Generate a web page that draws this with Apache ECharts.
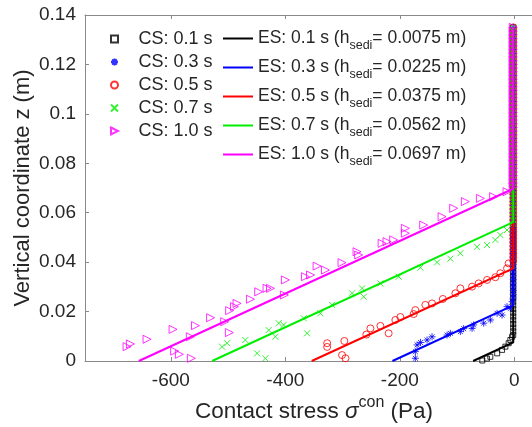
<!DOCTYPE html>
<html>
<head>
<meta charset="utf-8">
<script src="https://cdn.jsdelivr.net/npm/echarts@6/dist/echarts.min.js"></script>
<style>html,body{margin:0;padding:0;background:#fff}#c{width:532px;height:427px}</style>
</head>
<body>
<div id="c"></div>
<script>
// ---------- data ----------
const csNames = ['CS: 0.1 s', 'CS: 0.3 s', 'CS: 0.5 s', 'CS: 0.7 s', 'CS: 1.0 s'];
const esTimes = ['0.1', '0.3', '0.5', '0.7', '1.0'];
const hSedi = ['0.0075', '0.0225', '0.0375', '0.0562', '0.0697'];
const xTicks = [-600, -400, -200, 0];

// CS scattered points below the bed surface [stress (Pa), z (m)]
const cs01 = [[-56,0.0002],[-48,0.0010],[-42,0.0017],[-30,0.0031],[-21.5,0.0045],[-15.7,0.0058],[-10,0.0072],[-7,0.0085],[-4,0.0098]];
const cs03 = [[-173,0.0011],[-173,0.0038],[-170,0.0065],[-164,0.0075],[-152.5,0.0085],[-143.8,0.0098],[-117.6,0.0105],[-111.8,0.0112],[-94.3,0.0119],[-88.6,0.0131],[-73.9,0.0132],[-71.1,0.0146],[-53.6,0.0153],[-41.9,0.0166],[-30.2,0.0193],[-21.5,0.0186],[-12.8,0.0220],[-7,0.0213],[-4,0.0240]];
const cs05 = [[-327,0.0072],[-327,0.0057],[-301,0.0024],[-295,0.0011],[-297,0.0081],[-258.5,0.0107],[-251.5,0.0132],[-234,0.0142],[-219.6,0.0112],[-207.9,0.0166],[-199.1,0.0178],[-175.9,0.0190],[-173,0.0206],[-155.5,0.0227],[-143.8,0.0233],[-124.9,0.0251],[-103,0.0274],[-94.3,0.0294],[-73.9,0.0301],[-62.4,0.0314],[-47.7,0.0328],[-33.2,0.0339],[-24.5,0.0355],[-12.8,0.0375],[-10,0.0395]];
const cs07 = [[-510.6,0.0058],[-501.8,0.0072],[-469.9,0.0085],[-449.4,0.0031],[-434.9,0.0011],[-429.2,0.0125],[-417.5,0.0098],[-411.7,0.0153],[-403,0.0146],[-368,0.0173],[-362.1,0.0112],[-338.9,0.0193],[-318.4,0.0227],[-283.5,0.0274],[-263.2,0.0260],[-266,0.0294],[-234,0.0314],[-202,0.0341],[-164.2,0.0378],[-135,0.0399],[-111.8,0.0414],[-94.3,0.0436],[-65.2,0.0462],[-47.7,0.0469],[-33.2,0.0490],[-24.5,0.0510],[-12.8,0.0530]];
const cs10 = [[-676.5,0.0058],[-670.7,0.0069],[-641.6,0.0088],[-596.2,0.0128],[-593.4,0.0040],[-585.2,0.0027],[-564.2,0.0011],[-566,0.0098],[-557,0.0143],[-530.6,0.0175],[-506,0.0159],[-497.8,0.0115],[-497.3,0.0204],[-489,0.0220],[-484.4,0.0233],[-461,0.0250],[-446.6,0.0280],[-432,0.0294],[-426,0.0294],[-400,0.0328],[-401.7,0.0267],[-365,0.0341],[-356,0.0348],[-344.6,0.0384],[-330,0.0368],[-301,0.0398],[-274.8,0.0442],[-272,0.0429],[-231,0.0476],[-222.4,0.0483],[-210.8,0.0490],[-190.4,0.0537],[-190.4,0.0517],[-158.4,0.0550],[-126.3,0.0584],[-106,0.0618],[-85.6,0.0645],[-59.4,0.0658],[-36.2,0.0665],[-12.8,0.0685]];

// CS points stacked at ~zero stress above the bed (dense column)
const colX = -2;
const colZ = [0.0105,0.0120,0.0135,0.0150,0.0165,0.0180,0.0195,0.0210,0.0225,0.0240,0.0255,0.0270,0.0285,0.0300,0.0315,0.0330,0.0345,0.0360,0.0375,0.0390,0.0405,0.0420,0.0435,0.0450,0.0465,0.0480,0.0495,0.0510,0.0525,0.0540,0.0555,0.0570,0.0585,0.0600,0.0615,0.0630,0.0645,0.0660,0.0675,0.0690,0.0705,0.0720,0.0735,0.0750,0.0765,0.0780,0.0795,0.0810,0.0825,0.0840,0.0855,0.0870,0.0885,0.0900,0.0915,0.0930,0.0945,0.0960,0.0975,0.0990,0.1005,0.1020,0.1035,0.1050,0.1065,0.1080,0.1095,0.1110,0.1125,0.1140,0.1155,0.1170,0.1185,0.1200,0.1215,0.1230,0.1245,0.1260,0.1275,0.1290,0.1305,0.1320,0.1335,0.1350];
const colStart = [0.0105, 0.0255, 0.0405, 0.0555, 0.0705];

// ES (analytical) profiles: base stress, bed surface, top of column
const es01 = [[-72,0],[-2,0.0075],[-2,0.135]];
const es03 = [[-213,0],[-2,0.0225],[-2,0.135]];
const es05 = [[-354,0],[-2,0.0375],[-2,0.135]];
const es07 = [[-528,0],[-2,0.0562],[-2,0.135]];
const es10 = [[-656,0],[-2,0.0697],[-2,0.135]];

// ---------- styling ----------
const FONT = '"Liberation Sans", Arial, Helvetica, sans-serif';
const TXT = '#262626';
const AX = '#8a8a8a';
const colors = ['#000000', '#0000ff', '#ff0000', '#00ee00', '#ff00ff'];
const symbols = [
  'path://M0,0 L10,0 L10,10 L0,10 Z',
  'path://M5,0 L5,10 M0,5 L10,5 M1.5,1.5 L8.5,8.5 M1.5,8.5 L8.5,1.5',
  'circle',
  'path://M0,0 L10,10 M0,10 L10,0',
  'path://M0,0 L10,5 L0,10 Z'
];
const symSizes = [5, 7, 7, 6, 8];
const csData = [cs01, cs03, cs05, cs07, cs10];
const esData = [es01, es03, es05, es07, es10];
const esNames = esTimes.map(t => 'ES: ' + t + ' s');

const series = [];
for (let i = 0; i < 5; i++) {
  const col = colZ.filter(z => z >= colStart[i] - 1e-9).map(z => [colX, z]);
  series.push({
    name: csNames[i], type: 'scatter',
    data: csData[i].concat(col),
    symbol: symbols[i], symbolSize: symSizes[i], symbolKeepAspect: true,
    itemStyle: {color: 'rgba(0,0,0,0)', borderColor: colors[i], borderWidth: 1},
    z: 2
  });
  series.push({
    name: esNames[i], type: 'line',
    data: esData[i], symbol: 'none', showSymbol: false,
    lineStyle: {color: colors[i], width: 2},
    itemStyle: {color: colors[i]},
    z: 3
  });
}

const chart = echarts.init(document.getElementById('c'), null, {renderer: 'canvas'});
chart.setOption({
  animation: false,
  backgroundColor: '#ffffff',
  grid: {left: 85, top: 15, width: 458, height: 346, containLabel: false, outerBoundsMode: 'none'},
  xAxis: [{
    type: 'value', min: -750, max: 50, position: 'bottom',
    axisLine: {show: true, onZero: false, lineStyle: {color: AX, width: 1}},
    axisTick: {show: true, inside: true, length: 4, customValues: xTicks, lineStyle: {color: AX}},
    axisLabel: {customValues: xTicks, fontSize: 19, color: TXT, margin: 10, fontFamily: FONT},
    splitLine: {show: false},
    name: '{a|Contact stress }{s|σ}{p|con}{a| (Pa)}',
    nameLocation: 'middle', nameGap: 33,
    nameTextStyle: {
      fontFamily: FONT, color: TXT,
      rich: {
        a: {fontSize: 22.5, fontFamily: FONT, color: TXT, lineHeight: 23},
        s: {fontSize: 22.5, fontFamily: FONT, color: TXT, fontStyle: 'italic', lineHeight: 23},
        p: {fontSize: 16, fontFamily: FONT, color: TXT, lineHeight: 16, padding: [0, 0, 18, 0]}
      }
    }
  }, {
    type: 'value', min: -750, max: 50, position: 'top',
    axisLine: {show: true, onZero: false, lineStyle: {color: AX, width: 1}},
    axisTick: {show: true, inside: true, length: 4, customValues: xTicks, lineStyle: {color: AX}},
    axisLabel: {show: false},
    splitLine: {show: false}
  }],
  yAxis: [{
    type: 'value', min: 0, max: 0.14, interval: 0.02,
    axisLine: {show: true, onZero: false, lineStyle: {color: AX, width: 1}},
    axisTick: {show: true, inside: true, length: 4, lineStyle: {color: AX}},
    axisLabel: {fontSize: 19, color: TXT, margin: 9, fontFamily: FONT},
    splitLine: {show: false},
    name: 'Vertical coordinate z (m)',
    nameLocation: 'middle', nameGap: 51, nameMoveOverlap: false,
    nameTextStyle: {fontSize: 22, fontFamily: FONT, color: TXT}
  }],
  legend: [{
    data: csNames, orient: 'vertical', left: 110, top: 30, padding: 0,
    itemWidth: 38, itemHeight: 7, itemGap: 5,
    textStyle: {fontSize: 18, fontFamily: FONT, color: TXT, lineHeight: 18},
    selectedMode: false
  }, {
    data: esNames.map(n => ({name: n, icon: 'rect'})),
    orient: 'vertical', left: 223, top: 25, padding: 0,
    itemWidth: 30, itemHeight: 2, itemGap: 2,
    formatter: function (name) {
      const i = esNames.indexOf(name);
      return '{a|ES: ' + esTimes[i] + ' s (h}{b|sedi}{a|= ' + hSedi[i] + ' m)}';
    },
    textStyle: {
      fontSize: 17.5, fontFamily: FONT, color: TXT,
      rich: {
        a: {fontSize: 17.5, fontFamily: FONT, color: TXT, lineHeight: 20},
        b: {fontSize: 12.5, fontFamily: FONT, color: TXT, lineHeight: 13, padding: [14, 0, 0, 0]}
      }
    },
    selectedMode: false
  }],
  series: series
});
</script>
</body>
</html>
